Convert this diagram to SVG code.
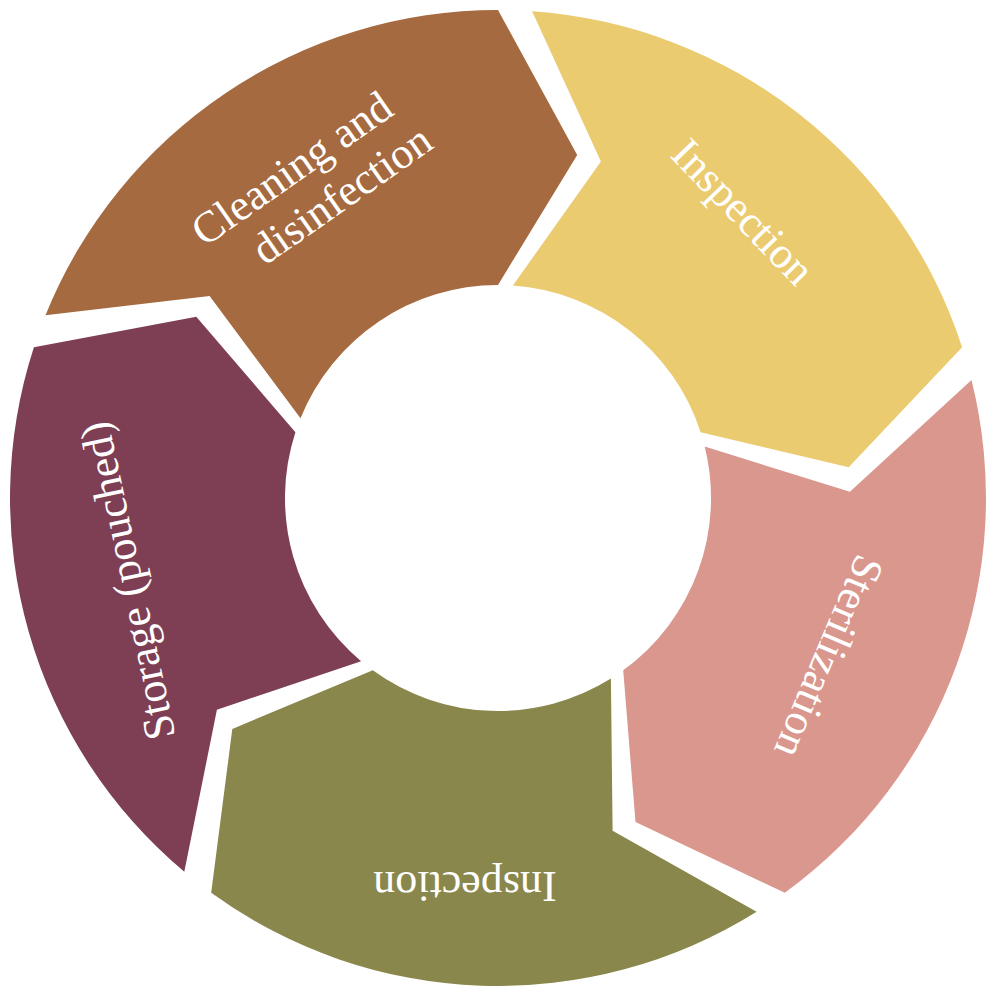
<svg xmlns="http://www.w3.org/2000/svg" width="1000" height="1000" viewBox="0 0 1000 1000">
<style>
.lbl{font-family:"Liberation Serif","DejaVu Serif",serif;font-size:44px;fill:#fff;text-anchor:middle;dominant-baseline:middle}
</style>
<rect width="1000" height="1000" fill="#fff"/>
<g id="yellow"><path fill="#EBCB70" d="M532.1,11.2 A488,488 0 0 1 962.1,347.2 L848.7,467.3 L700.6,432.2 A213,213 0 0 0 512.9,285.5 L600.9,161.4 Z"/>
<text class="lbl" transform="translate(740,215) rotate(46)">Inspection</text></g>
<g id="pink"><path fill="#DA978E" d="M971.5,380 A488,488 0 0 1 784.8,892.8 L635.5,822 L623.2,670.3 A213,213 0 0 0 704.7,446.5 L849.9,491.8 Z"/>
<text class="lbl" transform="translate(825,655) rotate(113)">Sterilization</text></g>
<g id="olive"><path fill="#8A874C" d="M756.6,911.8 A488,488 0 0 1 211.2,892.8 L232.3,728.9 L372.8,670.3 A213,213 0 0 0 610.9,678.6 L612.6,830.8 Z"/>
<text class="lbl" transform="translate(465,882) rotate(180)">Inspection</text></g>
<g id="purple"><path fill="#7E3F55" d="M184.3,871.8 A488,488 0 0 1 33.9,347.2 L196.3,316.7 L295.4,432.2 A213,213 0 0 0 361.1,661.2 L216.9,709.8 Z"/>
<text class="lbl" transform="translate(132,580) rotate(-102)">Storage  (pouched)</text></g>
<g id="brown"><path fill="#A66A40" d="M45.5,315.2 A488,488 0 0 1 498,10 L577.2,155 L498,285 A213,213 0 0 0 300.5,418.2 L209.6,296.1 Z"/>
<g transform="translate(318,185) rotate(-35)"><text class="lbl" x="-12" y="-24">Cleaning and</text><text class="lbl" x="14" y="26">disinfection</text></g></g>
<g id="connectors"/>
</svg>
